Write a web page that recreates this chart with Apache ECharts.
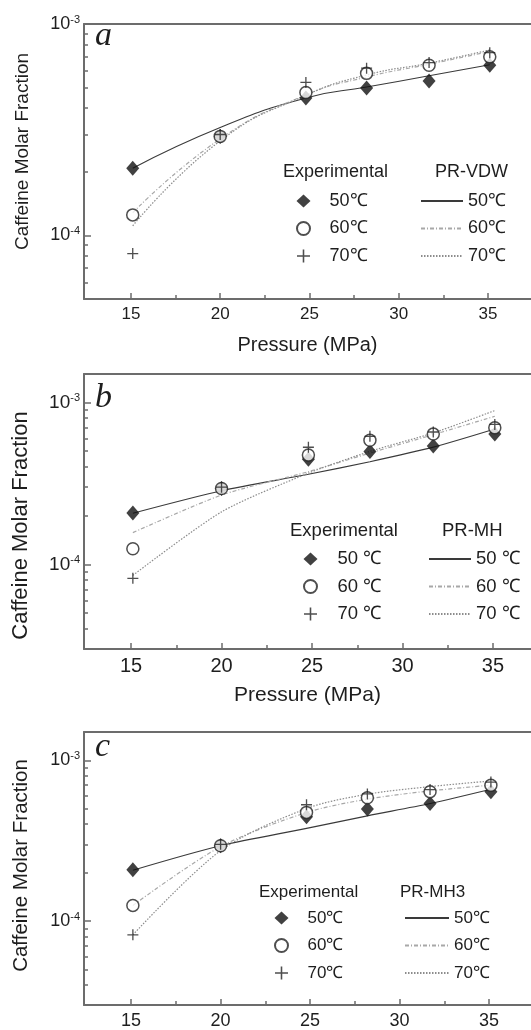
<!DOCTYPE html>
<html>
<head>
<meta charset="utf-8">
<script src="https://cdn.jsdelivr.net/npm/echarts@6/dist/echarts.min.js"></script>
<style>
html, body { margin: 0; padding: 0; background: #fff; }
#chart { width: 531px; height: 1030px; }
</style>
</head>
<body>
<div id="chart"></div>
<script>
// pressures (MPa) of the measurements
var pressure = [15.1, 20.0, 24.8, 28.2, 31.7, 35.1];

// experimental caffeine molar fractions
var exp50 = [2.08e-4, 2.94e-4, 4.46e-4, 4.98e-4, 5.38e-4, 6.38e-4];
var exp60 = [1.25e-4, 2.94e-4, 4.74e-4, 5.84e-4, 6.38e-4, 6.99e-4];
var exp70 = [8.2e-5, 3.0e-4, 5.29e-4, 6.18e-4, 6.57e-4, 7.32e-4];

// model curves, panel a (PR-VDW)
var vdw50 = [2.08e-4, 3.24e-4, 4.47e-4, 5.03e-4, 5.69e-4, 6.41e-4];
var vdw60 = [1.28e-4, 2.86e-4, 4.62e-4, 5.61e-4, 6.45e-4, 7.41e-4];
var vdw70 = [1.11e-4, 2.80e-4, 4.60e-4, 5.74e-4, 6.53e-4, 7.54e-4];

// panel b (PR-MH)
var mh50 = [2.07e-4, 2.85e-4, 3.60e-4, 4.31e-4, 5.30e-4, 6.86e-4];
var mh60 = [1.57e-4, 2.68e-4, 3.74e-4, 4.87e-4, 6.33e-4, 8.22e-4];
var mh70 = [8.55e-5, 2.11e-4, 3.66e-4, 4.99e-4, 6.49e-4, 8.92e-4];

// panel c (PR-MH3)
var mh3_50 = [2.07e-4, 2.94e-4, 3.77e-4, 4.51e-4, 5.38e-4, 6.60e-4];
var mh3_60 = [1.25e-4, 2.90e-4, 4.73e-4, 5.73e-4, 6.45e-4, 7.00e-4];
var mh3_70 = [8.2e-5, 2.74e-4, 5.01e-4, 6.15e-4, 6.86e-4, 7.44e-4];

var tempLabels = ['50 \u2103', '60 \u2103', '70 \u2103'];
var xMajor = [15, 20, 25, 30, 35];
var xMinor = [17.5, 22.5, 27.5, 32.5];
var yMajor = [1e-4, 1e-3];
var yMinor = [3e-5, 4e-5, 5e-5, 6e-5, 7e-5, 8e-5, 9e-5,
  2e-4, 3e-4, 4e-4, 5e-4, 6e-4, 7e-4, 8e-4, 9e-4];

var AX = '#6c6c6c';
var TXT = '#1e1e1e';
var SANS = 'Liberation Sans, Arial, sans-serif';

function zip(xs, ys) {
  return xs.map(function (x, i) { return [x, ys[i]]; });
}

var panels = [
  { key: 'a', model: 'PR-VDW', lines: [vdw50, vdw60, vdw70], top: 24, xMin: 12.37, xMax: 37.41,
    yMin: 5e-5, yMax: 1e-3, tick: 17, yLab: 18, yName: 19, yNamePad: [0, 0, 0, 20], xName: 20, leg: 18, tempSep: '',
    expL: 296, modL: 420, legTop: 191, expPad: 14, modW: 42, hdrTop: 162, hdrExp: 283, hdrMod: 435,
    letterTop: 19, smooth: 0.5 },
  { key: 'b', model: 'PR-MH', lines: [mh50, mh60, mh70], top: 374, xMin: 12.40, xMax: 37.10,
    yMin: 3e-5, yMax: 1.5e-3, tick: 20, yLab: 19, yName: 22, yNamePad: [0, 28, 0, 0], xName: 21, leg: 18.5, tempSep: ' ',
    expL: 303, modL: 428, legTop: 549, expPad: 15, modW: 42, hdrTop: 521, hdrExp: 290, hdrMod: 442,
    letterTop: 381, smooth: 0.25 },
  { key: 'c', model: 'PR-MH3', lines: [mh3_50, mh3_60, mh3_70], top: 732, xMin: 12.37, xMax: 37.34,
    yMin: 3e-5, yMax: 1.5e-3, tick: 18, yLab: 18, yName: 20.5, yNamePad: [0, 0, 0, 6], xName: 0, leg: 17, tempSep: '',
    expL: 274, modL: 404, legTop: 908, expPad: 14, modW: 44, hdrTop: 882, hdrExp: 259, hdrMod: 400,
    letterTop: 730, smooth: 0.3 }
];

var expSymbols = [
  { symbol: 'diamond', symbolSize: [13, 15], itemStyle: { color: '#111' } },
  { symbol: 'circle', symbolSize: 12, itemStyle: { color: '#fff', borderColor: '#222', borderWidth: 1.5 } },
  { symbol: 'path://M4.4,0H5.6V4.4H10V5.6H5.6V10H4.4V5.6H0V4.4H4.4Z', symbolSize: 11, itemStyle: { color: '#222' } }
];
var lineStyles = [
  { color: '#3a3a3a', width: 1.1, type: 'solid' },
  { color: '#a8a8a8', width: 1.2, type: [4, 2, 1, 2] },
  { color: '#8c8c8c', width: 1.2, type: [1.5, 1.5] }
];

var grid = [], xAxis = [], yAxis = [], series = [], legend = [], title = [];

panels.forEach(function (p, i) {
  grid.push({ left: 84, right: 0, top: p.top, height: 275 });

  xAxis.push({
    type: 'value', gridIndex: i, min: p.xMin, max: p.xMax, position: 'bottom',
    name: p.xName ? 'Pressure (MPa)' : '', nameLocation: 'middle', nameGap: 36,
    nameTextStyle: { fontSize: p.xName, color: TXT, fontFamily: SANS },
    axisLine: { show: true, lineStyle: { color: AX, width: 2 } },
    axisTick: { inside: true, length: 6, customValues: xMajor, lineStyle: { color: AX, width: 1.5 } },
    axisLabel: { customValues: xMajor, margin: 7, fontSize: p.tick, color: TXT, fontFamily: SANS },
    splitLine: { show: false }
  });
  yAxis.push({
    type: 'log', logBase: 10, gridIndex: i, min: p.yMin, max: p.yMax, position: 'left',
    name: 'Caffeine Molar Fraction', nameLocation: 'middle', nameGap: 52,
    nameTextStyle: { fontSize: p.yName, color: TXT, fontFamily: SANS, padding: p.yNamePad },
    axisLine: { show: true, lineStyle: { color: AX, width: 2 } },
    axisTick: { inside: true, length: 7, customValues: yMajor, lineStyle: { color: AX, width: 1.5 } },
    axisLabel: {
      customValues: yMajor, margin: 4, color: TXT, fontFamily: SANS,
      formatter: function (v) {
        return '{b|10}{s|-' + Math.round(-Math.log10(v)) + '}';
      },
      rich: {
        b: { fontSize: p.yLab, lineHeight: 20, fontFamily: SANS, color: TXT },
        s: { fontSize: 11, lineHeight: 11, verticalAlign: 'top', fontFamily: SANS, color: TXT }
      }
    },
    splitLine: { show: false }
  });

  var lbl = tempLabels.map(function (t) { return t.replace(' ', p.tempSep); });
  var expNames = [], modNames = [];
  [exp50, exp60, exp70].forEach(function (ys, k) {
    var nm = p.key + 'e' + k + '|' + lbl[k];
    expNames.push(nm);
    series.push(Object.assign({
      type: 'scatter', name: nm, xAxisIndex: i, yAxisIndex: i, z: 5,
      data: zip(pressure, ys)
    }, expSymbols[k]));
  });
  p.lines.forEach(function (ys, k) {
    var nm = p.key + 'm' + k + '|' + lbl[k];
    modNames.push(nm);
    series.push({
      type: 'line', name: nm, xAxisIndex: i, yAxisIndex: i, symbol: 'none',
      smooth: p.smooth, lineStyle: lineStyles[k], itemStyle: { color: lineStyles[k].color },
      data: zip(pressure, ys), z: 3
    });
  });

  var legText = { fontSize: p.leg, lineHeight: 20, color: TXT, fontFamily: SANS };
  legend.push({
    orient: 'vertical', left: p.expL, top: p.legTop, padding: 0, itemGap: 7.5,
    itemWidth: 14, itemHeight: 13, selectedMode: false, data: expNames,
    formatter: function (n) { return n.split('|')[1]; },
    textStyle: Object.assign({ padding: [0, 0, 0, p.expPad] }, legText)
  });
  legend.push({
    orient: 'vertical', left: p.modL, top: p.legTop, padding: 0, itemGap: 7.5,
    itemWidth: p.modW, itemHeight: 13, selectedMode: false, data: modNames,
    itemStyle: { opacity: 0 },
    formatter: function (n) { return n.split('|')[1]; },
    textStyle: legText
  });

  var hdr = { fontSize: p.leg, lineHeight: 20, fontWeight: 'normal', color: TXT, fontFamily: SANS };
  title.push({ text: 'Experimental', left: p.hdrExp, top: p.hdrTop, padding: 0, textStyle: hdr });
  title.push({ text: p.model, left: p.hdrMod, top: p.hdrTop, padding: 0, textStyle: hdr });
  title.push({ text: p.key, left: 95, top: p.letterTop, padding: 0,
    textStyle: { fontSize: 34, fontStyle: 'italic', fontWeight: 'normal', color: TXT,
      fontFamily: 'Liberation Serif, Times New Roman, serif' } });
});

// overlay axes: minor ticks and the top frame line
panels.forEach(function (p, i) {
  xAxis.push({
    type: 'value', gridIndex: i, min: p.xMin, max: p.xMax, position: 'bottom',
    axisLine: { show: false }, axisLabel: { show: false }, splitLine: { show: false },
    axisTick: { inside: true, length: 4, customValues: xMinor, lineStyle: { color: AX, width: 1.5 } }
  });
  xAxis.push({
    type: 'value', gridIndex: i, min: p.xMin, max: p.xMax, position: 'top',
    axisLine: { show: true, lineStyle: { color: AX, width: 2 } },
    axisTick: { show: false }, axisLabel: { show: false }, splitLine: { show: false }
  });
  yAxis.push({
    type: 'log', logBase: 10, gridIndex: i, min: p.yMin, max: p.yMax, position: 'left',
    axisLine: { show: false }, axisLabel: { show: false }, splitLine: { show: false },
    axisTick: { inside: true, length: 4, customValues: yMinor, lineStyle: { color: AX, width: 1.5 } }
  });
});

var chart = echarts.init(document.getElementById('chart'));
chart.setOption({
  animation: false,
  backgroundColor: '#fff',
  title: title,
  legend: legend,
  grid: grid,
  xAxis: xAxis,
  yAxis: yAxis,
  series: series
});
</script>
</body>
</html>
